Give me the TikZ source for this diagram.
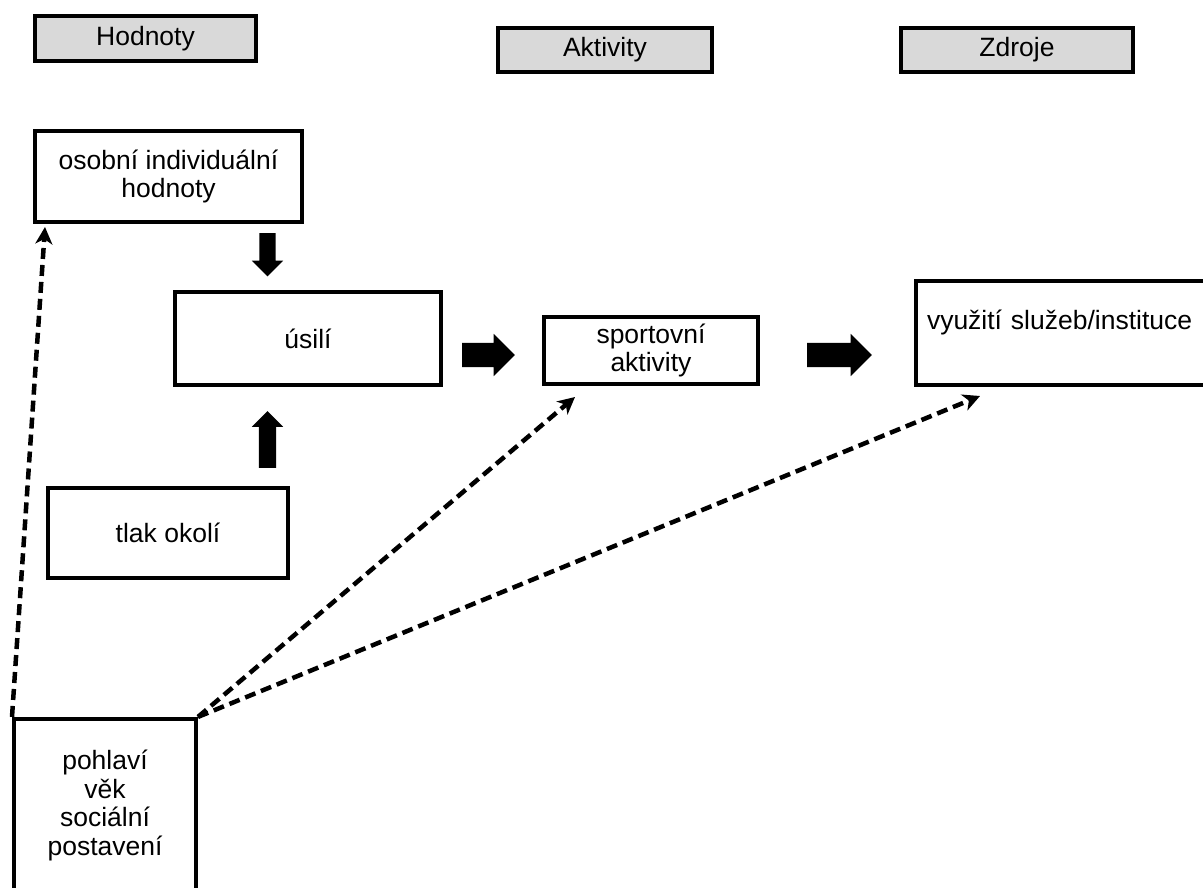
\documentclass[tikz,border=0pt]{standalone}
\usepackage{fontspec}
\setmainfont{Liberation Sans}
\usetikzlibrary{arrows.meta, shapes.arrows, positioning}

\begin{document}
\begin{tikzpicture}[x=1pt, y=-1pt, font=\fontsize{26.5}{28.5}\selectfont,
  box/.style={draw, line width=4pt, rectangle, align=center, inner sep=0pt},
  headbox/.style={box, fill=gray!30},
  blockarrow/.style={single arrow, fill=black, single arrow tip angle=90},
  dasharrow/.style={line width=4.5pt, dash pattern=on 11pt off 6pt, -{Stealth[length=17pt, width=17pt, inset=5pt]}}]
\useasboundingbox (0,0) rectangle (1203,887);
\clip (0,0) rectangle (1203,887);
% Top row: headers
\node[headbox, minimum width=221pt, minimum height=45pt] (hodnoty) at (145.5,38.5) {Hodnoty};
\node[headbox, minimum width=214pt, minimum height=44pt] (aktivity) at (605,50) {Aktivity};
\node[headbox, minimum width=232pt, minimum height=44pt] (zdroje) at (1017,50) {Zdroje};
%
% Boxes
\node[box, minimum width=267pt, minimum height=91pt] (osobni) at (168.5,176.5) {osobní individuální\\hodnoty};
\node[box, minimum width=266pt, minimum height=93pt] (usili) at (308,338.5) {úsilí};
\node[box, minimum width=214pt, minimum height=67pt] (sport) at (651,350.5) {sportovní\\aktivity};
\node[box, minimum width=322pt, minimum height=104pt, text width=300pt, text depth=26pt, inner xsep=11pt, align=left, anchor=west] (vyuziti) at (914,333) {využití služeb/instituce};
\node[box, minimum width=240pt, minimum height=90pt] (tlak) at (168,533) {tlak okolí};
\node[box, minimum width=182pt, minimum height=173pt] (pohlavi) at (105,805.4) {pohlaví\\věk\\sociální\\postavení};
%
% Block arrows
\node[blockarrow, inner xsep=17.25pt, inner ysep=8pt, single arrow head extend=7.5pt, rotate=-90, anchor=tail] (arrdown) at (267.5,233) {};
\node[blockarrow, inner xsep=23.75pt, inner ysep=8.5pt, single arrow head extend=7pt, rotate=90, anchor=tail] (arrup) at (267.5,468) {};
\node[blockarrow, inner xsep=20pt, inner ysep=12pt, single arrow head extend=9pt, anchor=tail] (arr1) at (462,355) {};
\node[blockarrow, inner xsep=26pt, inner ysep=12pt, single arrow head extend=9pt, anchor=tail] (arr2) at (807,355) {};
%
% Dashed arrows
\coordinate (tipO) at ([shift={(12pt,-3pt)}]osobni.south west);
\coordinate (tipS) at ([shift={(33pt,-11pt)}]sport.south west);
\coordinate (tipV) at ([shift={(66pt,-9pt)}]vyuziti.south west);
\draw[dasharrow] (pohlavi.north west) -- (tipO);
\draw[dasharrow] (pohlavi.north east) -- (tipS);
\draw[dasharrow] (pohlavi.north east) -- (tipV);
\end{tikzpicture}
\end{document}
